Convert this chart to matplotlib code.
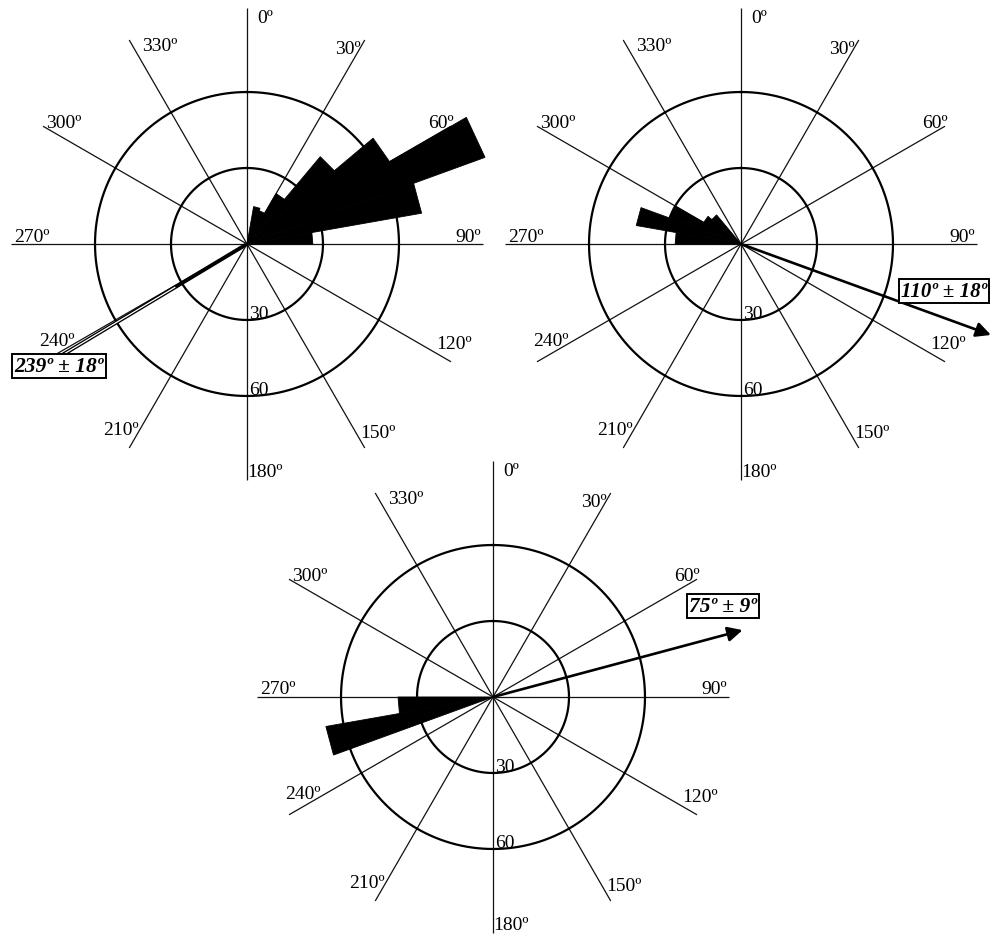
import numpy as np
import matplotlib
matplotlib.use("Agg")
import matplotlib.pyplot as plt

plt.rcParams['font.family'] = ['Liberation Serif', 'DejaVu Serif']

# Rose diagrams: start azimuth of each 10-degree bin and its frequency
bins_a = [10, 20, 30, 40, 50, 60, 70, 80]
freq_a = [15, 14, 23, 45, 65, 100, 70, 26]
mean_a, err_a = 239, 18

bins_b = [270, 280, 290, 300, 310]
freq_b = [26, 42, 30, 17, 15]
mean_b, err_b = 110, 18

bins_c = [250, 260]
freq_c = [67, 37.5]
mean_c, err_c = 75, 9

ring_values = [30, 60]
spoke_angles = list(range(0, 360, 30))
BIN_WIDTH = 10

# layout
W, H = 993, 937
PX = 2.533          # pixels per radial unit
RMAX = 112          # radial limit of each polar axes
SPOKE = 93          # length of the azimuth spokes
FS = 14

# pixel offsets of the azimuth labels from the spoke ends
label_off = {0: (18, -9), 30: (-17, -9), 60: (-10, 4), 90: (-14, 8),
             120: (3, 18), 150: (13, 16), 180: (18, 8), 210: (-8, 19),
             240: (14, 21), 270: (20, 8), 300: (21, 4), 330: (31, -6)}

fig = plt.figure(figsize=(W / 100, H / 100), dpi=100)
fig.patch.set_facecolor('white')


def make_axes(cx, cy):
    rpx = RMAX * PX
    ax = fig.add_axes([(cx - rpx) / W, (H - cy - rpx) / H, 2 * rpx / W, 2 * rpx / H],
                      projection='polar')
    ax.set_theta_zero_location('N')
    ax.set_theta_direction(-1)
    ax.set_ylim(0, RMAX)
    ax.set_axis_off()
    return ax


def draw_rose(ax, bins, freq, mean, err, hollow, box_off, box_ha, box_fs, tip_r):
    for a in spoke_angles:
        t = np.deg2rad(a)
        ax.plot([t, t], [0, SPOKE], color='#111111', lw=0.9, solid_capstyle='butt')
        dx, dy = label_off[a]
        ax.annotate(f'{a}º', xy=(t, SPOKE), xytext=(dx, dy), textcoords='offset pixels',
                    ha='center', va='center', fontsize=FS)

    petals = ax.bar(np.deg2rad(bins), freq, width=np.deg2rad(BIN_WIDTH), align='edge',
                    color='black', edgecolor='black', linewidth=0.6, zorder=3)
    # straight outer edges for the petals
    for p in petals:
        p.get_path()._interpolation_steps = 1

    circ = np.linspace(0, 2 * np.pi, 721)
    for rv in ring_values:
        ax.plot(circ, np.full_like(circ, rv), color='black', lw=1.6, zorder=4)
        ax.annotate(str(rv), xy=(np.pi, rv), xytext=(2, 2), textcoords='offset pixels',
                    ha='left', va='baseline', fontsize=FS, zorder=5)

    tm = np.deg2rad(mean)
    if hollow:
        ax.plot([tm, tm], [0, tip_r - 5], color='black', lw=2.8, zorder=6,
                solid_capstyle='butt')
        ax.plot([tm, tm], [33, tip_r - 6], color='white', lw=0.9, zorder=7,
                solid_capstyle='butt')
        ax.annotate('', xy=(tm, tip_r), xytext=(tm, tip_r - 7),
                    arrowprops=dict(arrowstyle='-|>', color='black', lw=1.5,
                                    mutation_scale=24, shrinkA=0, shrinkB=0), zorder=8)
    else:
        ax.annotate('', xy=(tm, tip_r), xytext=(0, 0),
                    arrowprops=dict(arrowstyle='-|>', color='black', lw=1.9,
                                    mutation_scale=22, shrinkA=0, shrinkB=0), zorder=8)

    ax.annotate(f'{mean}º ± {err}º', xy=(0, 0), xytext=box_off, textcoords='offset pixels',
                ha=box_ha, va='center', fontsize=box_fs, fontweight='bold',
                fontstyle='italic',
                bbox=dict(boxstyle='square,pad=0.1', fc='white', ec='black', lw=1.4),
                zorder=9)


ax1 = make_axes(247, 245)
draw_rose(ax1, bins_a, freq_a, mean_a, err_a, True, (-188, -122), 'center', 15.5, 100.7)

ax2 = make_axes(741, 245)
draw_rose(ax2, bins_b, freq_b, mean_b, err_b, False, (160, -47), 'left', 15, 105)

ax3 = make_axes(493, 698)
draw_rose(ax3, bins_c, freq_c, mean_c, err_c, False, (230, 91), 'center', 15.5, 102)

fig.savefig('out.png', dpi=100, facecolor='white')
